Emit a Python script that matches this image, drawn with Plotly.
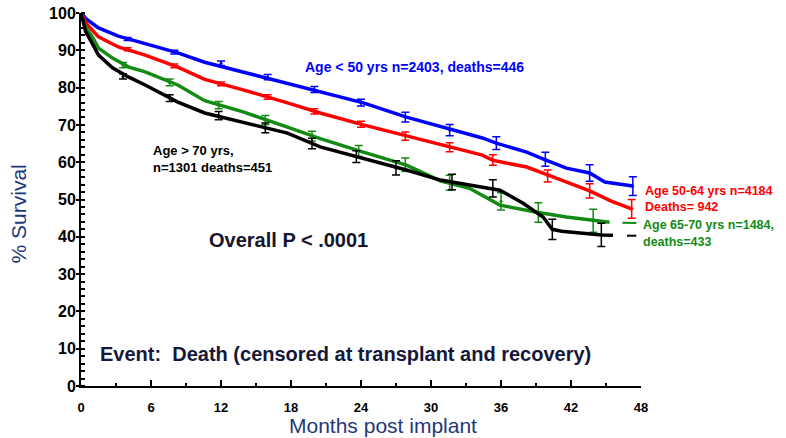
import plotly.graph_objects as go

# ---- data ----
blue_t = [0, 0.5, 1.5, 3.2, 5.5, 8.3, 10.6, 13.9, 17.7, 21.1, 24.2, 27.9, 31.6, 34.4, 35.6, 38.2, 39.8, 41.6, 43.6, 44.9, 47.3]
blue_s = [100, 98.3, 96.0, 93.8, 91.8, 89.3, 86.8, 84.2, 81.2, 78.5, 75.9, 72.1, 68.8, 66.5, 65.1, 62.7, 60.6, 58.4, 57.1, 54.7, 53.6]

red_t = [0, 0.5, 1.5, 3.2, 5.5, 8.3, 10.6, 13.9, 17.7, 20.5, 24.2, 27.9, 31.6, 34.4, 35.3, 38.2, 40.0, 41.6, 43.6, 45.5, 47.2]
red_s = [100, 97.0, 93.6, 90.9, 88.7, 85.5, 82.2, 79.4, 75.9, 73.2, 70.0, 67.0, 64.0, 61.9, 60.5, 58.7, 56.6, 54.7, 52.3, 49.5, 47.5]

green_t = [0, 0.4, 0.9, 1.5, 2.7, 4.1, 5.5, 8.3, 10.6, 13.9, 17.7, 20.5, 24.2, 27.9, 30.8, 33.3, 35.9, 39.2, 41.6, 44.0, 45.3]
green_s = [100, 96.0, 94.0, 90.6, 87.9, 85.5, 84.2, 80.7, 76.5, 73.5, 69.4, 66.3, 62.7, 59.2, 55.0, 53.0, 48.5, 46.5, 45.3, 44.3, 43.9]
green_tail_t = [46.4, 47.6]
green_tail_s = [43.8, 43.7]

black_t = [0, 0.4, 0.9, 1.5, 2.7, 4.1, 5.5, 8.3, 10.6, 13.9, 17.7, 20.5, 24.2, 27.9, 30.8, 33.3, 35.9, 37.9, 39.6, 40.4, 41.2, 44.6, 45.6]
black_s = [100, 95.0, 92.2, 88.7, 85.3, 82.8, 80.7, 76.1, 73.2, 70.8, 67.8, 64.1, 61.1, 57.9, 55.2, 53.9, 52.5, 49.0, 45.3, 42.0, 41.5, 40.5, 40.4]
black_tail_t = [46.8, 47.6]
black_tail_s = [40.3, 40.3]

# error bars (time, survival, +/- error)
blue_eb_t = [4, 8, 12, 16, 20, 24, 27.8, 31.6, 35.6, 39.8, 43.6, 47.3]
blue_eb_s = [93.0, 89.5, 86.5, 82.8, 79.5, 76.0, 72.1, 68.6, 65.1, 60.8, 57.1, 53.6]
blue_eb_e = [0.4, 0.5, 0.6, 0.7, 0.8, 0.9, 1.3, 1.5, 1.7, 1.9, 2.2, 2.5]

red_eb_t = [4, 8, 12, 16, 20, 24, 27.8, 31.6, 35.3, 40.0, 43.6, 47.2]
red_eb_s = [90.3, 85.8, 81.0, 77.5, 73.6, 70.2, 67.0, 64.0, 60.6, 56.3, 52.3, 47.5]
red_eb_e = [0.4, 0.5, 0.5, 0.6, 0.7, 0.8, 1.1, 1.2, 1.4, 1.6, 1.9, 2.5]

green_eb_t = [3.6, 7.6, 11.8, 15.8, 19.8, 23.8, 27.8, 31.6, 36.0, 39.2, 43.9]
green_eb_s = [86.0, 81.4, 75.3, 71.3, 67.0, 63.0, 59.3, 54.5, 49.5, 46.5, 44.3]
green_eb_e = [0.7, 0.9, 1.0, 1.2, 1.3, 1.5, 1.8, 2.0, 2.3, 2.6, 3.1]

black_eb_t = [3.6, 7.6, 11.8, 15.8, 19.8, 23.6, 27.0, 31.8, 35.3, 40.4, 44.6]
black_eb_s = [83.0, 77.2, 72.5, 69.2, 65.0, 61.5, 58.5, 54.7, 53.0, 42.0, 40.5]
black_eb_e = [0.7, 0.9, 1.1, 1.3, 1.4, 1.6, 1.9, 2.1, 2.3, 2.7, 3.1]

x_ticks = [0, 6, 12, 18, 24, 30, 36, 42, 48]
y_ticks = [0, 10, 20, 30, 40, 50, 60, 70, 80, 90, 100]

series = [
    ("Age < 50", "#0000ff", blue_t, blue_s, blue_eb_t, blue_eb_s, blue_eb_e, None, None),
    ("Age 50-64", "#ff0000", red_t, red_s, red_eb_t, red_eb_s, red_eb_e, None, None),
    ("Age 65-70", "#138a13", green_t, green_s, green_eb_t, green_eb_s, green_eb_e, green_tail_t, green_tail_s),
    ("Age > 70", "#000000", black_t, black_s, black_eb_t, black_eb_s, black_eb_e, black_tail_t, black_tail_s),
]

fig = go.Figure()
for name, col, t, s, et, es, ee, tt, ts in series:
    fig.add_trace(go.Scatter(x=t, y=s, mode="lines", line=dict(color=col, width=3.5),
                             name=name, showlegend=False, cliponaxis=False))
    fig.add_trace(go.Scatter(x=et, y=es, mode="markers",
                             marker=dict(color=col, size=3),
                             error_y=dict(type="data", array=ee, color=col, thickness=1.5, width=4),
                             showlegend=False, cliponaxis=False))
    if tt is not None:
        fig.add_trace(go.Scatter(x=tt, y=ts, mode="lines", line=dict(color=col, width=2),
                                 showlegend=False, cliponaxis=False))

XMAX = 48.0
bold = "Liberation Sans, Arial, sans-serif"
ann = [
    dict(x=28.6, y=85.5, text="<b>Age < 50 yrs n=2403, deaths=446</b>", color="#0000ff", size=14, xanchor="center"),
    dict(x=6.1, y=60.8, text="<b>Age > 70 yrs,<br>n=1301 deaths=451</b>", color="#000000", size=13, xanchor="left"),
    dict(x=48.3, y=52.3, text="<b>Age 50-64 yrs n=4184</b>", color="#ff0000", size=12.5, xanchor="left"),
    dict(x=48.3, y=48.0, text="<b>Deaths= 942</b>", color="#ff0000", size=12.5, xanchor="left"),
    dict(x=48.1, y=43.2, text="<b>Age 65-70 yrs n=1484,</b>", color="#138a13", size=12.5, xanchor="left"),
    dict(x=48.1, y=38.6, text="<b>deaths=433</b>", color="#138a13", size=12.5, xanchor="left"),
    dict(x=10.9, y=39.2, text="<b>Overall P < .0001</b>", color="#15152e", size=20, xanchor="left"),
    dict(x=1.5, y=8.6, text="<b>Event:  Death (censored at transplant and recovery)</b>", color="#15183a", size=20, xanchor="left"),
]
for a in ann:
    fig.add_annotation(x=a["x"] / XMAX, y=a["y"], xref="paper", yref="y", text=a["text"], showarrow=False,
                       xanchor=a["xanchor"], yanchor="middle", align="left", borderpad=0,
                       font=dict(family=bold, size=a["size"], color=a["color"]))

# axis titles (placed as in the original)
title_col = "#22387a"
fig.add_annotation(x=-0.1125, y=46.0, xref="paper", yref="y", text="% Survival", textangle=-90,
                   showarrow=False, xanchor="center", yanchor="middle",
                   font=dict(family=bold, size=21, color=title_col))
fig.add_annotation(x=25.9 / XMAX, y=-0.105, xref="paper", yref="paper", text="Months post implant",
                   showarrow=False, xanchor="center", yanchor="middle",
                   font=dict(family=bold, size=21, color=title_col))

fig.update_layout(
    width=786, height=438,
    margin=dict(l=81, r=145, t=13, b=52),
    plot_bgcolor="white", paper_bgcolor="white",
    font=dict(family=bold, color="black"),
)
fig.update_xaxes(range=[0, XMAX], tickvals=x_ticks, ticktext=[f"<b>{v}</b>" for v in x_ticks],
                 automargin=False,
                 showline=True, linecolor="black", linewidth=2, showgrid=False, zeroline=False,
                 ticks="inside", ticklen=6, tickwidth=2, tickcolor="black",
                 tickfont=dict(size=13, color="black"), ticklabelstandoff=8,
                 minor=dict(dtick=3, ticks="inside", ticklen=3, tickwidth=2, tickcolor="black"))
fig.update_yaxes(range=[0, 100], tickvals=y_ticks, ticktext=[f"<b>{v}</b>" for v in y_ticks],
                 automargin=False,
                 showline=True, linecolor="black", linewidth=2, showgrid=False, zeroline=False,
                 ticks="outside", ticklen=3, tickwidth=2, tickcolor="black",
                 tickfont=dict(size=16, color="black"), ticklabelstandoff=-3,
                 minor=dict(dtick=2, ticks="inside", ticklen=4, tickwidth=1.5, tickcolor="black"))

fig.write_html("out.html")
